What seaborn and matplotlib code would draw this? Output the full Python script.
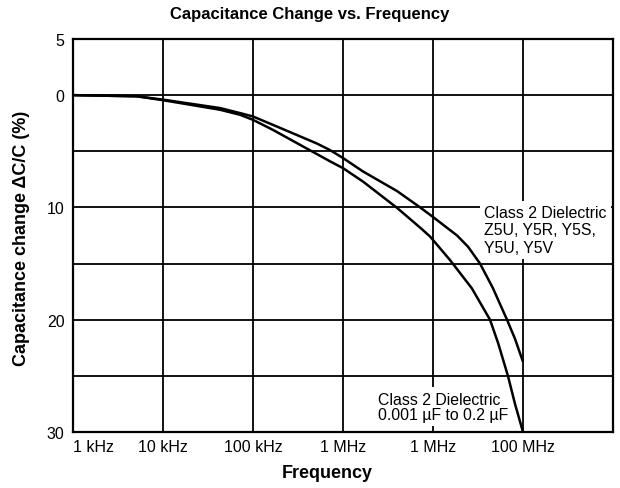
import matplotlib
matplotlib.use("Agg")
import matplotlib.pyplot as plt
import matplotlib.ticker as mticker
import seaborn as sns
import pandas as pd

# ---- data ----
freq_z5u = [1e3, 5.1e3, 1e4, 4.3e4, 7.2e4, 1e5, 1.67e5, 5.1e5, 7.2e5, 1e6,
            1.67e6, 4e6, 7.2e6, 1e7, 1.85e7, 2.45e7, 3.33e7, 4.64e7,
            6.64e7, 8.15e7, 1e8]
dc_z5u = [0.0, 0.1, 0.4, 1.15, 1.6, 1.9, 2.65, 4.3, 4.9, 5.6,
          6.8, 8.55, 10.0, 10.85, 12.5, 13.5, 15.0, 17.2,
          20.0, 21.7, 23.75]

freq_cap = [1e3, 5.1e3, 1e4, 4.3e4, 7.2e4, 1e5, 1.67e5, 4.5e5, 7.2e5, 1e6,
            1.67e6, 4e6, 7.2e6, 9.3e6, 1.55e7, 2.7e7, 4.3e7, 5.3e7,
            6.8e7, 8.15e7, 1e8]
dc_cap = [0.0, 0.1, 0.45, 1.3, 1.75, 2.2, 3.1, 5.0, 5.9, 6.5,
          7.7, 10.05, 11.8, 12.6, 14.7, 17.2, 20.0, 22.1,
          25.0, 27.5, 30.0]

x_ticks = [1e3, 1e4, 1e5, 1e6, 1e7, 1e8]
x_tick_labels = ["1 kHz", "10 kHz", "100 kHz", "1 MHz", "1 MHz", "100 MHz"]
y_ticks = [-5, 0, 10, 20, 30]
y_tick_labels = ["5", "0", "10", "20", "30"]
y_minor = [5, 15, 25]

title = "Capacitance Change vs. Frequency"
xlabel = "Frequency"
ylabel = "Capacitance change \u0394C/C (%)"
label_z5u = "Class 2 Dielectric\nZ5U, Y5R, Y5S,\nY5U, Y5V"
label_cap = "Class 2 Dielectric\n0.001 \u00b5F to 0.2 \u00b5F"

df = pd.concat([
    pd.DataFrame({"freq": freq_z5u, "dc": dc_z5u, "series": "z5u"}),
    pd.DataFrame({"freq": freq_cap, "dc": dc_cap, "series": "cap"}),
])

sns.set_theme(style="white")
plt.rcParams["font.family"] = ["Liberation Sans", "DejaVu Sans"]
plt.rcParams.update({"text.color": "black", "axes.labelcolor": "black",
                     "xtick.color": "black", "ytick.color": "black"})

fig = plt.figure(figsize=(6.2, 4.89), dpi=100)
ax = fig.add_axes([73/620, 1-433/489, 540/620, 393/489])

sns.lineplot(data=df, x="freq", y="dc", hue="series", units="series",
             estimator=None, palette={"z5u": "black", "cap": "black"},
             linewidth=1.8, legend=False, ax=ax, zorder=4,
             solid_joinstyle="round", solid_capstyle="butt")

ax.set_xscale("log")
ax.set_xlim(1e3, 1e9)
ax.set_ylim(30, -5)

ax.set_xticks(x_ticks)
ax.set_xticklabels(x_tick_labels, fontsize=11.5)
ax.xaxis.set_minor_locator(mticker.NullLocator())
ax.get_xticklabels()[0].set_horizontalalignment("left")
ax.set_yticks(y_ticks)
ax.set_yticklabels(y_tick_labels, fontsize=11.5)
ax.set_yticks(y_minor, minor=True)
ax.tick_params(axis="both", which="both", length=0, colors="black")
ax.tick_params(axis="x", pad=5)
ax.tick_params(axis="y", pad=6)

ax.grid(True, which="both", color="black", linewidth=1.3, zorder=1)
ax.set_axisbelow(True)
for s in ax.spines.values():
    s.set_color("black")
    s.set_linewidth(1.6)

ax.set_xlabel("")
ax.set_ylabel("")

ax.text(0.762, 0.578, label_z5u, transform=ax.transAxes, fontsize=11.4,
        ha="left", va="top", linespacing=1.22, zorder=3,
        bbox=dict(facecolor="white", edgecolor="none", pad=3))
ax.text(0.564, 0.103, label_cap, transform=ax.transAxes, fontsize=11.4,
        ha="left", va="top", linespacing=1.05, zorder=3,
        bbox=dict(facecolor="white", edgecolor="none", pad=3))

fig.text(0.5, 1-14/489, title, ha="center", va="center",
         fontsize=12, fontweight="bold")
fig.text(327/620, 1-474/489, xlabel, ha="center", va="center",
         fontsize=13, fontweight="bold")
fig.text(22/620, 1-238/489, ylabel, ha="center", va="center",
         rotation=90, fontsize=13, fontweight="bold")

fig.savefig("out.png", dpi=100)
